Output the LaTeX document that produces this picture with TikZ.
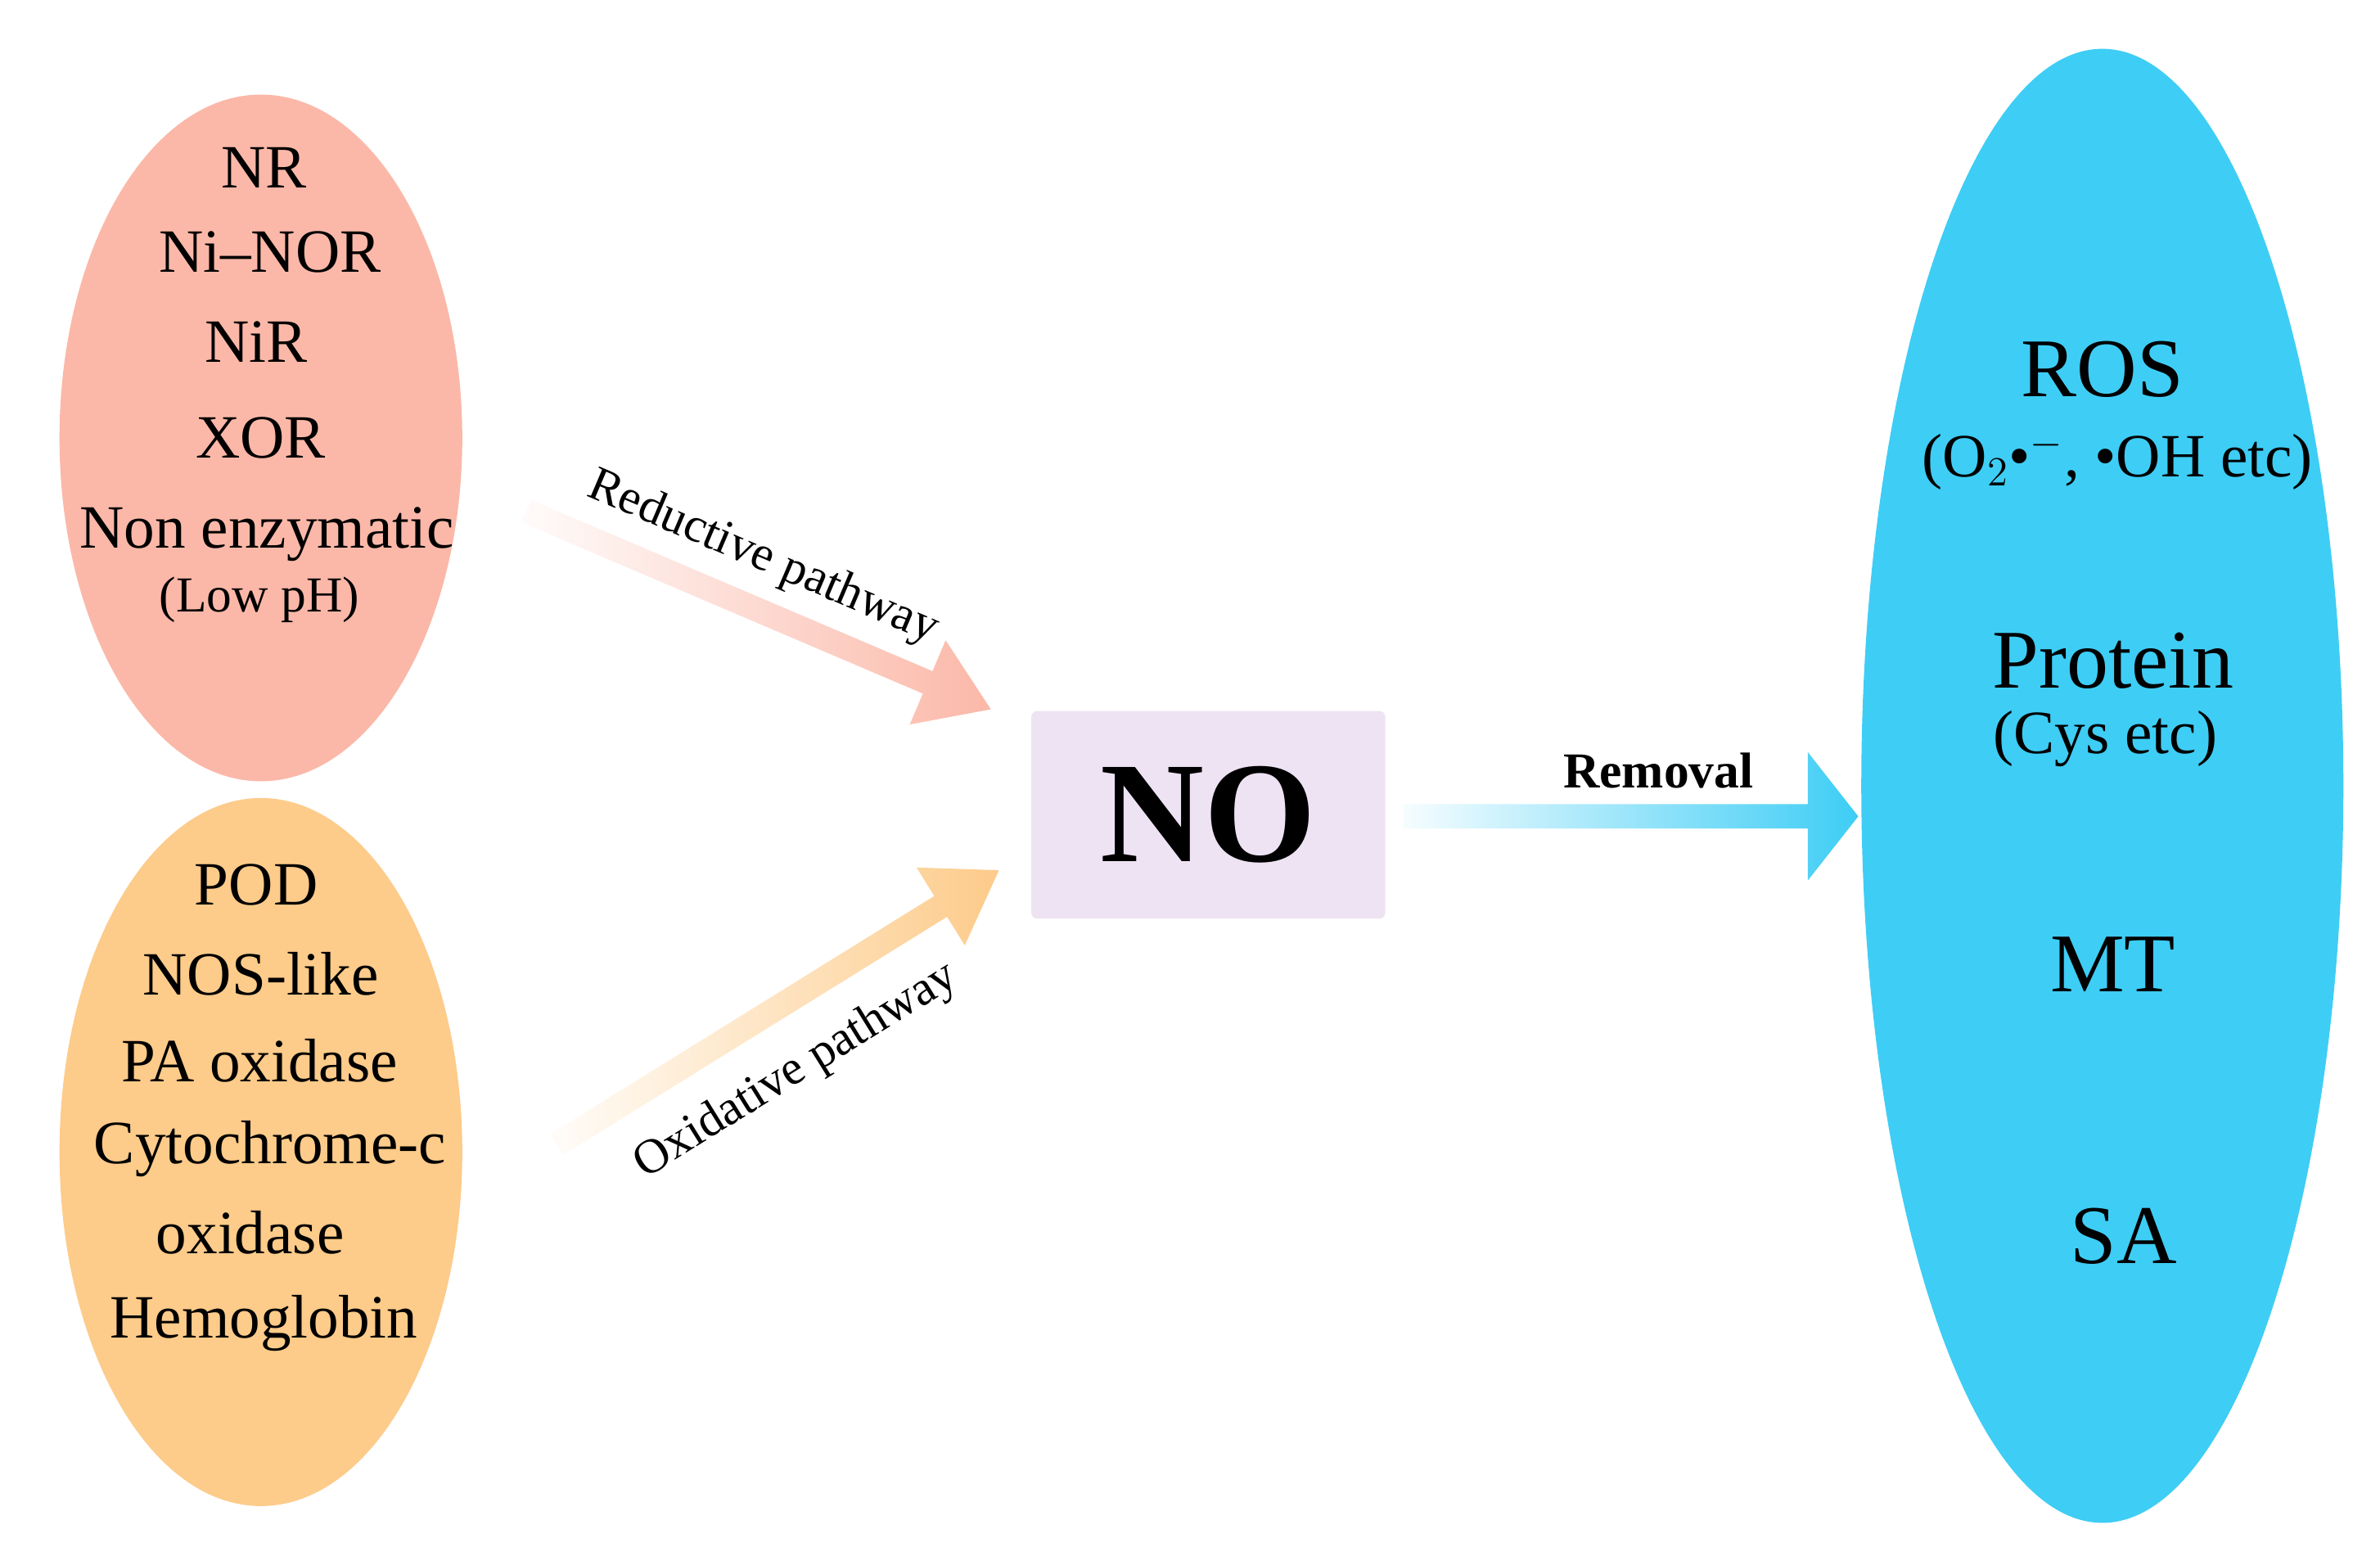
\documentclass[tikz,border=0pt]{standalone}
\usepackage{fontspec}
\setmainfont{Liberation Serif}
\begin{document}
\begin{tikzpicture}[x=0.01864cm,y=-0.01864cm,
  t/.style={font=\fontsize{21.4}{23}\selectfont,inner sep=0pt},
  s/.style={font=\fontsize{17.5}{19}\selectfont,inner sep=0pt},
  b/.style={font=\fontsize{29}{31}\selectfont,inner sep=0pt},
  lab/.style={font=\fontsize{17}{19}\selectfont,inner sep=0pt}]
\useasboundingbox[fill=white] (0,0) rectangle (1560,1016.6);
\definecolor{pk}{HTML}{FBB8A8}
\definecolor{og}{HTML}{FDCB8A}
\definecolor{bl}{HTML}{3ECDF5}
\definecolor{nob}{HTML}{EEE3F3}
\fill[pk] (171,287) ellipse [x radius=132, y radius=225];
\fill[og] (171,755) ellipse [x radius=132, y radius=232];
\fill[bl] (1378,515) ellipse [x radius=158, y radius=483];
\node[fill=nob,rounded corners=2pt,minimum width=232*0.01864cm,minimum height=136*0.01864cm,font=\fontsize{50}{52}\selectfont\bfseries] (no) at (792,534) {NO};
% arrows
\begin{scope}[shift={(345,335)},rotate=-23.1]
\shade[left color=pk!5,right color=pk] (0,-8)--(286,-8)--(286,-30)--(331,0)--(286,30)--(286,8)--(0,8)--cycle;
\end{scope}
\begin{scope}[shift={(365,750)},rotate=31.8]
\shade[left color=og!5,right color=og] (0,-8)--(296,-8)--(296,-30)--(341,0)--(296,30)--(296,8)--(0,8)--cycle;
\end{scope}
\begin{scope}[shift={(920,535)}]
\shade[left color=bl!5,right color=bl] (0,-8)--(265,-8)--(265,-42)--(298,0)--(265,42)--(265,8)--(0,8)--cycle;
\end{scope}
\node[lab,rotate=-23.1] (rl) at (500,366) {Reductive pathway};
\node[lab,rotate=31.8] (ol) at (522,702) {Oxidative pathway};
\node[lab,font=\fontsize{17.5}{19}\selectfont\bfseries] (rm) at (1087,505) {Removal};
% pink
\node[t] (a1) at (173,110) {NR};
\node[t] (a2) at (177,165) {Ni–NOR};
\node[t] (a3) at (168,224) {NiR};
\node[t] (a4) at (171,287) {XOR};
\node[t] (a5) at (175,350) {Non enzymatic};
\node[s] (a6) at (170,393) {(Low pH)};
% orange
\node[t] (b1) at (168,580) {POD};
\node[t] (b2) at (171,638) {NOS-like};
\node[t] (b3) at (170,695) {PA oxidase};
\node[t] (b4) at (177,753) {Cytochrome-c};
\node[t] (b5) at (164,808) {oxidase};
\node[t] (b6) at (173,867) {Hemoglobin};
% blue
\node[b] (c1) at (1378,242) {ROS};
\node[t] (c2) at (1388,302) {(O$_2$•$^{-}$, •OH etc)};
\node[b] (c3) at (1385,433) {Protein};
\node[t] (c4) at (1380,484) {(Cys etc)};
\node[b] (c5) at (1385,632) {MT};
\node[b] (c6) at (1392,810) {SA};
\end{tikzpicture}
\end{document}
